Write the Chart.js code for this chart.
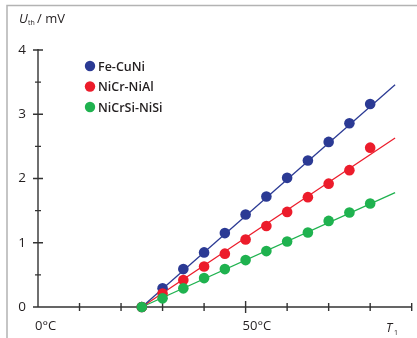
<!DOCTYPE html>
<html>
<head>
<meta charset="utf-8">
<script src="https://cdn.jsdelivr.net/npm/chart.js@4/dist/chart.umd.min.js"></script>
<style>
  html, body { margin: 0; padding: 0; background: #fff; }
  canvas { display: block; }
</style>
</head>
<body>
<canvas id="thermo" width="417" height="338"></canvas>
<script>
// temperatures T1 in °C
var temps = [25, 30, 35, 40, 45, 50, 55, 60, 65, 70, 75, 80];
// thermo voltage in mV
var feCuNi    = [0, 0.29, 0.59, 0.85, 1.15, 1.44, 1.72, 2.01, 2.28, 2.57, 2.86, 3.16];
var niCrNiAl  = [0, 0.21, 0.42, 0.63, 0.83, 1.05, 1.26, 1.48, 1.71, 1.92, 2.13, 2.48];
var niCrSiNiSi = [0, 0.135, 0.29, 0.45, 0.59, 0.73, 0.87, 1.02, 1.16, 1.34, 1.47, 1.61];
// straight fit lines (start / end)
var fitT = [25, 86];
var fitFe = [0, 3.46];
var fitNiAl = [0, 2.63];
var fitNiSi = [0, 1.78];
var yTicks = [0, 1, 2, 3, 4];
var xLabels = [0, 50];
var names = ["Fe-CuNi", "NiCr-NiAl", "NiCrSi-NiSi"];
var colors = ["#2b3a94", "#ec1c2b", "#1fb24f"];

function pts(xs, ys) {
  return xs.map(function (x, i) { return { x: x, y: ys[i] }; });
}

var ink = "#231f20";

var axesPlugin = {
  id: "axesPlugin",
  beforeDatasetsDraw: function (chart) {
    var c = chart.ctx, xs = chart.scales.x, ys = chart.scales.y;
    var x0 = xs.getPixelForValue(0), y0 = ys.getPixelForValue(0);
    c.save();
    // frame
    c.strokeStyle = "#b3b3b3";
    c.lineWidth = 1.5;
    c.beginPath();
    c.moveTo(7, 338); c.lineTo(7, 5.5); c.lineTo(417, 5.5);
    c.stroke();

    c.strokeStyle = "#333";
    c.lineWidth = 1.4;
    c.beginPath();
    c.moveTo(x0, ys.getPixelForValue(4) - 1);
    c.lineTo(x0, y0);
    c.lineTo(xs.getPixelForValue(90), y0);
    // y ticks
    for (var v = 0; v <= 4; v += 0.5) {
      var py = ys.getPixelForValue(v), l = (v % 1 === 0) ? 5 : 3;
      c.moveTo(x0 - l, py); c.lineTo(x0 + l, py);
    }
    // x ticks
    for (var t = 10; t <= 90; t += 10) {
      var px = xs.getPixelForValue(t), lx = (t === 50) ? 6 : 4;
      c.moveTo(px, y0 - lx); c.lineTo(px, y0 + lx);
    }
    c.stroke();

    c.fillStyle = ink;
    c.font = "13.5px 'Open Sans', sans-serif";
    c.textAlign = "center";
    c.textBaseline = "middle";
    yTicks.forEach(function (v) {
      c.fillText(String(v), 22, ys.getPixelForValue(v));
    });
    c.textAlign = "left";
    c.textBaseline = "alphabetic";
    c.font = "13px 'Open Sans', sans-serif";
    xLabels.forEach(function (v) {
      c.fillText(v + "°C", xs.getPixelForValue(v) - 3, 330);
    });

    // axis titles
    c.font = "italic 13px 'Open Sans', sans-serif";
    c.fillText("U", 19, 23);
    c.font = "7px 'Open Sans', sans-serif";
    c.fillText("th", 28, 25);
    c.font = "13px 'Open Sans', sans-serif";
    c.fillText("/ mV", 37, 23);

    c.font = "italic 12.5px 'Open Sans', sans-serif";
    c.fillText("T", 386, 332);
    c.font = "7px 'Open Sans', sans-serif";
    c.fillText("1", 394, 335);

    // legend
    c.font = "600 12.5px 'Open Sans', sans-serif";
    c.textBaseline = "middle";
    names.forEach(function (n, i) {
      var ly = 66 + i * 20.5;
      c.fillStyle = colors[i];
      c.beginPath();
      c.arc(90, ly, 5.2, 0, Math.PI * 2);
      c.fill();
      c.fillStyle = ink;
      c.fillText(n, 98, ly + 1);
    });
    c.restore();
  }
};

function lineSet(ys, col) {
  return {
    type: "line", data: pts(fitT, ys), borderColor: col, borderWidth: 1.3,
    pointRadius: 0, fill: false, clip: false, order: 2
  };
}
function dotSet(label, ys, col) {
  return {
    type: "scatter", label: label, data: pts(temps, ys), backgroundColor: col,
    borderColor: col, pointRadius: 5.3, pointHoverRadius: 5.3, borderWidth: 0,
    clip: false, order: 1
  };
}

new Chart(document.getElementById("thermo").getContext("2d"), {
  type: "scatter",
  data: {
    datasets: [
      lineSet(fitFe, colors[0]), lineSet(fitNiAl, colors[1]), lineSet(fitNiSi, colors[2]),
      dotSet(names[2], niCrSiNiSi, colors[2]),
      dotSet(names[1], niCrNiAl, colors[1]),
      dotSet(names[0], feCuNi, colors[0])
    ]
  },
  options: {
    responsive: false,
    animation: false,
    layout: { padding: { left: 38, right: 5, top: 50, bottom: 31 } },
    plugins: { legend: { display: false }, tooltip: { enabled: false } },
    scales: {
      x: { type: "linear", min: 0, max: 90, display: false },
      y: { type: "linear", min: 0, max: 4, display: false }
    }
  },
  plugins: [axesPlugin]
});
</script>
</body>
</html>
